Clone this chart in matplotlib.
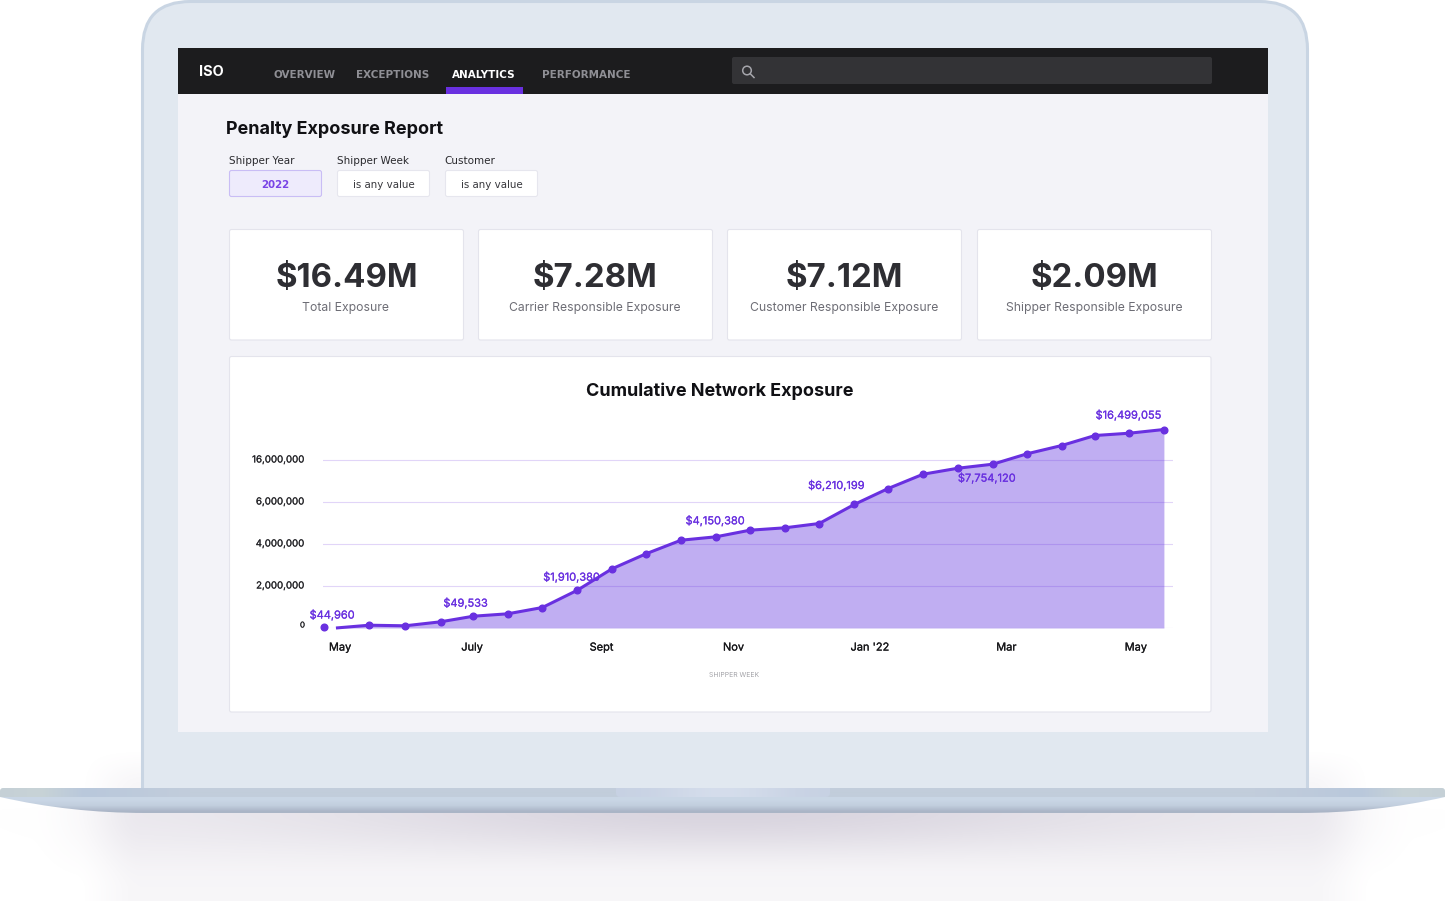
import numpy as np
import matplotlib
matplotlib.use("Agg")
import matplotlib.pyplot as plt
import matplotlib.patheffects as pe
import matplotlib.transforms as mtrans
from matplotlib.patches import Rectangle, FancyBboxPatch, PathPatch, Circle
from matplotlib.path import Path

plt.rcParams['font.family'] = ['Inter', 'DejaVu Sans']

# chart data
weeks = [0, 1.29, 2.32, 3.33, 4.27, 5.25, 6.24, 7.24, 8.23, 9.2, 10.2, 11.2, 12.17,
         13.17, 14.15, 15.15, 16.12, 17.12, 18.12, 19.11, 20.09, 21.08, 22.03, 23.01, 24]
exposure = [44960, 133000, 105000, 295000, 562000, 676000, 976000, 1800000, 2820000,
            3533000, 4180000, 4343000, 4657000, 4771000, 4976000, 5881000, 9210000,
            12620000, 14050000, 15000000, 17480000, 19450000, 21830000, 22380000, 23260000]
line_start = 0.34
y_ticks = [0, 2000000, 4000000, 6000000, 16000000]
y_labels = ['0', '2,000,000', '4,000,000', '6,000,000', '16,000,000']
x_ticks = [0.46, 4.23, 7.93, 11.7, 15.6, 19.5, 23.2]
x_labels = ['May', 'July', 'Sept', 'Nov', "Jan '22", 'Mar', 'May']
callout_idx = [0, 4, 7, 11, 15, 19, 23]
callout_text = ['$44,960', '$49,533', '$1,910,380', '$4,150,380', '$6,210,199', '$7,754,120', '$16,499,055']
callout_off = [(8, 12), (-8, 13), (-6, 13), (-1, 16), (-18, 19), (-6, -14), (-1, 18)]

kpi_values = ['$16.49M', '$7.28M', '$7.12M', '$2.09M']
kpi_names = ['Total Exposure', 'Carrier Responsible Exposure',
             'Customer Responsible Exposure', 'Shipper Responsible Exposure']
kpi_left = [229, 478, 727, 977]
nav_items = ['OVERVIEW', 'EXCEPTIONS', 'ANALYTICS', 'PERFORMANCE']
nav_x = [273, 356, 452, 542]
filter_names = ['Shipper Year', 'Shipper Week', 'Customer']
filter_values = ['2022', 'is any value', 'is any value']
filter_left = [229, 337, 445]

PURPLE = '#6930e0'
W, H = 1445, 901

fig = plt.figure(figsize=(W / 100, H / 100), dpi=100, facecolor='white')
bg = fig.add_axes([0, 0, 1, 1])
bg.set_axis_off()


def px(size):
    return size * 0.72


def ramp(v, a, b):
    t = np.clip((v - a) / (b - a), 0, 1)
    return t * t * (3 - 2 * t)


def thicken(t, color, lw=0.15):
    # no medium weight available, so fatten the regular one a little
    t.set_path_effects([pe.withStroke(linewidth=lw, foreground=color)])


def box(x0, y0, x1, y1, fc, ec='none', lw=0, r=0, z=1):
    style = f'round,pad=0,rounding_size={r}' if r else 'square,pad=0'
    p = FancyBboxPatch((x0, y0), x1 - x0, y1 - y0, boxstyle=style, fc=fc, ec=ec, lw=lw, zorder=z)
    bg.add_patch(p)
    return p


def label(x, y, s, size, color, weight='normal', ha='left', family=None, z=5):
    return bg.text(x, y, s, fontsize=px(size), color=color, fontweight=weight, ha=ha, va='center',
                   family=family, zorder=z)


# soft shadow under the laptop
xx, yy = np.meshgrid(np.arange(W), np.arange(H))
broad = ramp(xx, 30, 140) * (1 - ramp(xx, 1305, 1415)) * ramp(yy, 790, 812) * (1 - ramp(yy, 815, 890))
core = np.exp(-((xx - 722) / 380.0) ** 2) * (1 - ramp(yy, 812, 875)) * ramp(yy, 800, 812)
side = ramp(xx, 75, 141) * (1 - ramp(xx, 1309, 1375)) * ramp(yy, 745, 790)
alpha = np.clip(0.09 * broad + 0.17 * core + 0.07 * side, 0, 1)
shadow = np.dstack([np.full(alpha.shape, 0.55), np.full(alpha.shape, 0.5), np.full(alpha.shape, 0.62), alpha])
bg.imshow(shadow, extent=(0, W, H, 0), aspect='auto', zorder=0, interpolation='bilinear')

# lid
lid = box(142.5, 1.5, 1307.5, 860, '#e1e8f0', '#c9d5e3', 2.2, r=48, z=1)
lid.set_clip_path(Rectangle((0, 0), W, 789, transform=bg.transData))

# base
stops_x = [0, 40, 85, 190, 1255, 1360, 1405, W]
stops_c = np.array([[197, 208, 214], [200, 211, 214], [185, 200, 220], [194, 205, 219],
                    [194, 205, 219], [185, 200, 220], [200, 211, 214], [197, 208, 214]]) / 255
cols = np.arange(W)
bar = np.dstack([np.interp(cols, stops_x, stops_c[:, c])[None, :] for c in range(3)])
bar_im = bg.imshow(bar, extent=(0, W, 797, 788), aspect='auto', zorder=2, interpolation='bilinear')
bar_im.set_clip_path(FancyBboxPatch((0, 788), W, 12, boxstyle='round,pad=0,rounding_size=3', transform=bg.transData))
notch = np.array([[[0.78, 0.82, 0.89], [0.86, 0.89, 0.94], [0.78, 0.82, 0.89]]])
notch_im = bg.imshow(notch, extent=(616, 830, 797, 788), aspect='auto', zorder=3, interpolation='bicubic')
notch_im.set_clip_path(FancyBboxPatch((616, 780), 214, 17, boxstyle='round,pad=0,rounding_size=4', transform=bg.transData))
lower = np.array([[[0.79, 0.84, 0.90]], [[0.76, 0.81, 0.87]], [[0.67, 0.71, 0.78]]])
lower_im = bg.imshow(lower, extent=(0, W, 814, 797), aspect='auto', zorder=2, interpolation='bilinear')
lower_path = Path([(0, 797), (70, 813), (145, 813), (1300, 813), (1375, 813), (W, 797), (0, 797)],
                  [Path.MOVETO, Path.CURVE3, Path.CURVE3, Path.LINETO, Path.CURVE3, Path.CURVE3, Path.CLOSEPOLY])
lower_im.set_clip_path(PathPatch(lower_path, transform=bg.transData))

# screen and nav bar
box(178, 48, 1268, 732, '#f3f3f8', z=2)
box(178, 48, 1268, 94, '#1c1c1e', z=3)
box(446, 87, 523, 93.5, PURPLE, z=4)
box(732, 57, 1212, 84, '#333336', r=2, z=4)
bg.add_patch(Circle((747, 70.5), 4.3, fc='none', ec='#a5a5ab', lw=1.1, zorder=5))
bg.plot([750.2, 754], [73.7, 77.5], color='#a5a5ab', lw=1.1, zorder=5)
label(199, 72, 'ISO', 14.5, 'white', 'bold')
for x, name in zip(nav_x, nav_items):
    active = name == 'ANALYTICS'
    label(x, 74.5, name, 10.4, 'white' if active else '#8f8f95', 'bold', family='DejaVu Sans')

label(226, 130, 'Penalty Exposure Report', 18, '#101014', 'bold')

# filters
for i, (x, name, value) in enumerate(zip(filter_left, filter_names, filter_values)):
    label(x - (1 if i == 2 else 0), 161, name, 10.4, '#2a2a2e', family='DejaVu Sans')
    active = i == 0
    box(x + 0.5, 170.5, x + 92.5, 196.5, '#eeebfc' if active else 'white',
        '#c9bdf5' if active else '#e6e6ee', 0.8, r=2, z=3)
    label(x + 46.5, 185, value, 10.3, '#7a45e6' if active else '#37373c', 'bold' if active else 'normal',
          ha='center', family='DejaVu Sans')

# KPI cards
for x, value, name in zip(kpi_left, kpi_values, kpi_names):
    box(x + 0.5, 229.5, x + 234.5, 340, 'white', '#e4e4ec', 0.8, r=2, z=3)
    label(x + 117.5, 278, value, 33, '#2e2e33', 'bold', ha='center')
    label(x + 117, 308, name, 12.2, '#6d6d75', ha='center')

# chart card
box(229.5, 356.5, 1211, 712, 'white', '#e4e4ec', 0.8, r=2, z=3)
label(720, 391, 'Cumulative Network Exposure', 18, '#101014', 'bold', ha='center')

bg.set_xlim(0, W)
bg.set_ylim(H, 0)

# chart, 0-6M and 6M-16M are evenly spaced on the axis
ax = fig.add_axes([323 / W, 1 - 628 / H, 850 / W, 210 / H], zorder=5)
ax.patch.set_alpha(0)
scale_v = [0, 2e6, 4e6, 6e6, 16e6, 26e6]
scale_u = [0, 1, 2, 3, 4, 5]
ax.set_yscale('function', functions=(lambda v: np.interp(v, scale_v, scale_u),
                                     lambda u: np.interp(u, scale_u, scale_v)))
ax.set_xlim(-0.03, 24.26)
ax.set_ylim(0, 26e6)

line_x = [line_start] + weeks[1:]
line_y = [0] + exposure[1:]
ax.fill_between(line_x, line_y, 0, color='#c0aef2', lw=0, zorder=1)
ax.plot(line_x, line_y, color=PURPLE, lw=2.2, zorder=3, clip_on=False, solid_capstyle='butt')
ax.plot(weeks, exposure, 'o', color=PURPLE, ms=4.8, zorder=4, clip_on=False)

ax.set_yticks(y_ticks)
ax.set_yticklabels(y_labels, fontsize=px(9.7), color='#222226')
ax.set_xticks(x_ticks)
ax.set_xticklabels(x_labels, fontsize=px(11), color='#17171a')
ax.minorticks_off()
ax.tick_params(axis='y', length=0, pad=13)
ax.tick_params(axis='x', length=0, pad=10.5)
ax.set_axisbelow(False)
ax.grid(axis='y', color=PURPLE, alpha=0.2, lw=0.8, zorder=2)
for tick in ax.get_yticklabels():
    up = 4 if tick.get_text() == '0' else 1
    tick.set_transform(tick.get_transform() + mtrans.ScaledTranslation(0, px(up) / 72, fig.dpi_scale_trans))
    thicken(tick, '#222226', 0.1)
for tick in ax.get_xticklabels():
    thicken(tick, '#17171a')
ax.get_yticklabels()[0].set_fontsize(px(8))
for s in ax.spines.values():
    s.set_visible(False)
ax.set_xlabel('SHIPPER WEEK', fontsize=px(6.8), color='#a3a3a8')
ax.xaxis.set_label_coords((734 - 323) / 850, -(675 - 628 - 3) / 210)

for i, s, off in zip(callout_idx, callout_text, callout_off):
    t = ax.annotate(s, (weeks[i], exposure[i]), xytext=(px(off[0]), px(off[1])), textcoords='offset points',
                    ha='center', va='center', fontsize=px(11), color=PURPLE, zorder=5, annotation_clip=False)
    thicken(t, PURPLE)

fig.savefig('out.png', dpi=100)
